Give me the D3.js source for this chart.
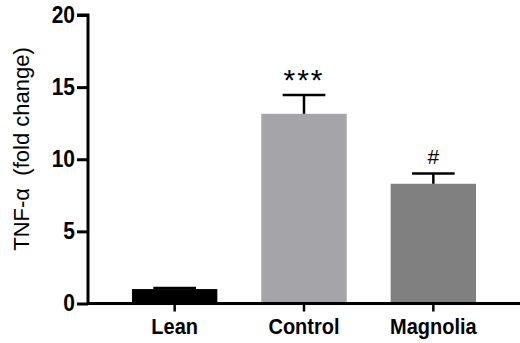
<!DOCTYPE html>
<html>
<head>
<meta charset="utf-8">
<script src="https://cdn.jsdelivr.net/npm/d3@7"></script>
<style>
  body { margin: 0; background: #fff; }
  svg { display: block; font-family: "Liberation Sans", Arial, sans-serif; }
</style>
</head>
<body>
<svg id="chart" width="520" height="343"></svg>
<script>
const groups = ["Lean", "Control", "Magnolia"];
const means = [1.0, 13.15, 8.3];
const sems = [0.07, 1.3, 0.72];
const marks = ["", "***", "#"];
const yTicks = [0, 5, 10, 15, 20];
const barColors = ["#000000", "#a4a4a9", "#808080"];

const data = groups.map((g, i) => ({group: g, mean: means[i], sem: sems[i], mark: marks[i], color: barColors[i]}));

const drawChart = (svg_name, data) => {
	let chart = d3.select(svg_name);
	let margin = {left: 88, right: 0, top: 15, bottom: 39.5};
	let width = +chart.attr("width");
	let height = +chart.attr("height");

	let y = d3.scaleLinear()
		.domain([0, 20])
		.range([height - margin.bottom, margin.top]);
	let x = d3.scaleBand()
		.domain(groups)
		.range([margin.left, width - margin.right])
		.paddingInner(0.34)
		.paddingOuter(0.34);

	addBars(chart, data, x, y);
	addErrors(chart, data, x, y);
	addYAxis(chart, y, margin, height);
	addXAxis(chart, x, y, margin, width);
	addMarks(chart, data, x, y);
}

const addBars = (chart, data, x, y) => {
	chart.append("g").selectAll("rect")
		.data(data)
		.enter()
		.append("rect")
			.attr("x", d => x(d.group))
			.attr("y", d => y(d.mean))
			.attr("width", x.bandwidth())
			.attr("height", d => y(0) - y(d.mean))
			.attr("fill", d => d.color);
}

const addErrors = (chart, data, x, y) => {
	let g = chart.append("g").attr("stroke", "#000").attr("stroke-width", 2.5);
	let cap = x.bandwidth() / 2;
	data.forEach(d => {
		let cx = x(d.group) + x.bandwidth() / 2;
		g.append("line")
			.attr("x1", cx).attr("x2", cx)
			.attr("y1", y(d.mean)).attr("y2", y(d.mean + d.sem));
		g.append("line")
			.attr("x1", cx - cap / 2).attr("x2", cx + cap / 2)
			.attr("y1", y(d.mean + d.sem)).attr("y2", y(d.mean + d.sem));
	});
}

const addYAxis = (chart, y, margin, height) => {
	let y_axis = d3.axisLeft(y).tickValues(yTicks).tickSize(11).tickPadding(2);
	let g = chart.append("g")
		.attr("transform", `translate(${margin.left},0)`)
		.call(y_axis);
	g.select(".domain").attr("stroke-width", 3).attr("d", `M-11,${y(20)}H0V${y(0)}`);
	g.selectAll(".tick line").attr("stroke-width", 3);
	g.selectAll(".tick text")
		.style("font-family", "Liberation Sans, Arial, sans-serif")
		.style("font-size", "21px")
		.style("font-weight", "bold")
		.attr("transform", "scale(1,1.1)")
		.attr("fill", "#000");

	chart.append("text")
		.attr("transform", "rotate(-90)")
		.attr("x", -149)
		.attr("y", 29)
		.style("text-anchor", "middle")
		.style("font-size", "22px")
		.style("white-space", "pre")
		.attr("fill", "#000")
		.text("TNF-\u03b1  (fold change)");
}

const addXAxis = (chart, x, y, margin, width) => {
	let x_axis = d3.axisBottom(x).tickSize(8).tickPadding(6);
	let g = chart.append("g")
		.attr("transform", `translate(0,${y(0)})`)
		.call(x_axis);
	g.select(".domain").attr("stroke-width", 3).attr("d", `M${margin.left},0H${width}`);
	g.selectAll(".tick line").attr("stroke-width", 2.5);
	g.selectAll(".tick text")
		.style("font-family", "Liberation Sans, Arial, sans-serif")
		.style("font-size", "20px")
		.style("font-weight", "bold")
		.attr("transform", "scale(1,1.08)")
		.attr("fill", "#000");
}

const addMarks = (chart, data, x, y) => {
	chart.append("g").selectAll("text")
		.data(data.filter(d => d.mark))
		.enter()
		.append("text")
			.attr("x", d => x(d.group) + x.bandwidth() / 2)
			.attr("y", d => y(d.mean + d.sem) - (d.mark === "#" ? 9 : 5))
			.style("text-anchor", "middle")
			.style("font-size", d => d.mark === "#" ? "21px" : "30px")
			.style("letter-spacing", d => d.mark === "#" ? "0px" : "2px")
			.attr("fill", "#000")
			.text(d => d.mark);
}

drawChart("#chart", data);
</script>
</body>
</html>
